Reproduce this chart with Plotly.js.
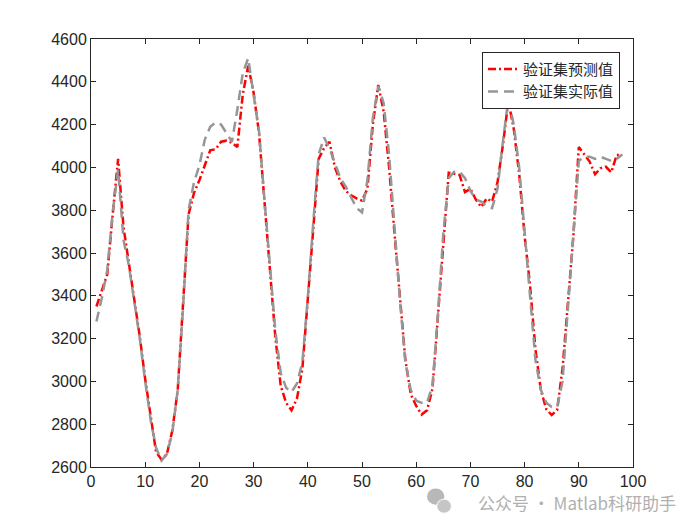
<!DOCTYPE html>
<html>
<head>
<meta charset="utf-8">
<script src="https://cdn.plot.ly/plotly-3.0.1.min.js"></script>
<style>html,body{margin:0;padding:0;background:#fff;}#chart{width:700px;height:525px;}</style>
</head>
<body>
<div id="chart"></div>
<script>
const sampleIndex = [];
for (let i = 1; i <= 98; i++) sampleIndex.push(i);

const predicted = [
  3350, 3420, 3500, 3780, 4040, 3720, 3550, 3380, 3210, 3010,
  2830, 2670, 2635, 2660, 2770, 2960, 3370, 3780, 3880, 3940,
  4010, 4080, 4085, 4120, 4125, 4115, 4095, 4340, 4475, 4350,
  4160, 3840, 3530, 3210, 2980, 2900, 2865, 2920, 3060, 3370,
  3710, 4040, 4090, 4120, 4000, 3935, 3890, 3870, 3855, 3845,
  3900, 4200, 4385, 4260, 4000, 3690, 3380, 3100, 2940, 2885,
  2845, 2865, 2965, 3300, 3680, 3975, 3970, 3965, 3885, 3900,
  3850, 3815, 3855, 3840, 3930, 4105, 4310, 4180, 3970, 3680,
  3450, 3150, 2960, 2870, 2843, 2866, 3060, 3370, 3680, 4095,
  4058, 4027, 3968, 3996, 4003, 3977, 4058, 4058
];

const actual = [
  3280, 3390, 3520, 3790, 3990, 3660, 3540, 3370, 3200, 3000,
  2820, 2690, 2630, 2660, 2760, 2960, 3350, 3800, 3930, 4010,
  4130, 4190, 4210, 4200, 4160, 4120, 4270, 4440, 4510, 4330,
  4170, 3850, 3530, 3240, 3040, 2970, 2950, 2990, 3090, 3390,
  3740, 4060, 4140, 4090, 4020, 3950, 3910, 3860, 3810, 3790,
  3940, 4230, 4380, 4300, 4060, 3720, 3380, 3090, 2960, 2910,
  2900, 2900, 2980, 3310, 3690, 3950, 3980, 3980, 3950, 3890,
  3850, 3840, 3820, 3810, 3900, 4120, 4320, 4200, 4000, 3700,
  3400, 3100, 2960, 2900, 2880, 2880, 3000, 3330, 3680, 4030,
  4050, 4050, 4040, 4050, 4040, 4030, 4040, 4060
];

const seriesNames = ['验证集预测值', '验证集实际值'];
const xTicks = [0, 10, 20, 30, 40, 50, 60, 70, 80, 90, 100];
const yTicks = [2600, 2800, 3000, 3200, 3400, 3600, 3800, 4000, 4200, 4400, 4600];

const traces = [
  {x: sampleIndex, y: predicted, name: seriesNames[0], type: 'scatter', mode: 'lines',
   line: {color: '#ff0000', width: 2.5, dash: '8px,3px,2px,3px'}},
  {x: sampleIndex, y: actual, name: seriesNames[1], type: 'scatter', mode: 'lines',
   line: {color: '#969696', width: 2.5, dash: '10px,6px'}}
];

const axisCommon = {
  showgrid: false, zeroline: false, showline: true, mirror: 'ticks',
  linecolor: '#262626', linewidth: 1, ticks: 'inside', ticklen: 5,
  tickcolor: '#262626', tickwidth: 1,
  tickfont: {family: 'Liberation Sans, Arial, sans-serif', size: 16, color: '#262626'}
};

const layout = {
  width: 700, height: 525,
  margin: {l: 91, r: 67, t: 39, b: 58},
  paper_bgcolor: '#ffffff', plot_bgcolor: '#ffffff',
  showlegend: true,
  xaxis: Object.assign({}, axisCommon, {range: [0, 100], tickvals: xTicks, ticktext: xTicks.map(String)}),
  yaxis: Object.assign({}, axisCommon, {range: [2600, 4600], tickvals: yTicks, ticktext: yTicks.map(String)}),
  legend: {
    x: 0.976, y: 0.970, xanchor: 'right', yanchor: 'top',
    bgcolor: '#ffffff', bordercolor: '#262626', borderwidth: 1,
    font: {family: 'Noto Sans CJK SC, sans-serif', size: 15, color: '#262626'},
    tracegroupgap: 0
  },
  annotations: [{
    xref: 'paper', yref: 'paper', x: 1.083, y: -0.082, xanchor: 'right', yanchor: 'middle',
    text: '公众号 · Matlab科研助手', showarrow: false,
    font: {family: 'Noto Sans CJK SC, sans-serif', size: 17, color: '#b0b0b0'}
  }],
  shapes: [
    {type: 'circle', xref: 'paper', yref: 'paper', x0: 0.620, x1: 0.652, y0: -0.088, y1: -0.050,
     fillcolor: '#b8b8b8', line: {width: 0}},
    {type: 'circle', xref: 'paper', yref: 'paper', x0: 0.638, x1: 0.665, y0: -0.108, y1: -0.075,
     fillcolor: '#c6c6c6', line: {color: '#ffffff', width: 1}}
  ]
};

Plotly.newPlot('chart', traces, layout, {displayModeBar: false, staticPlot: true});
</script>
</body>
</html>
